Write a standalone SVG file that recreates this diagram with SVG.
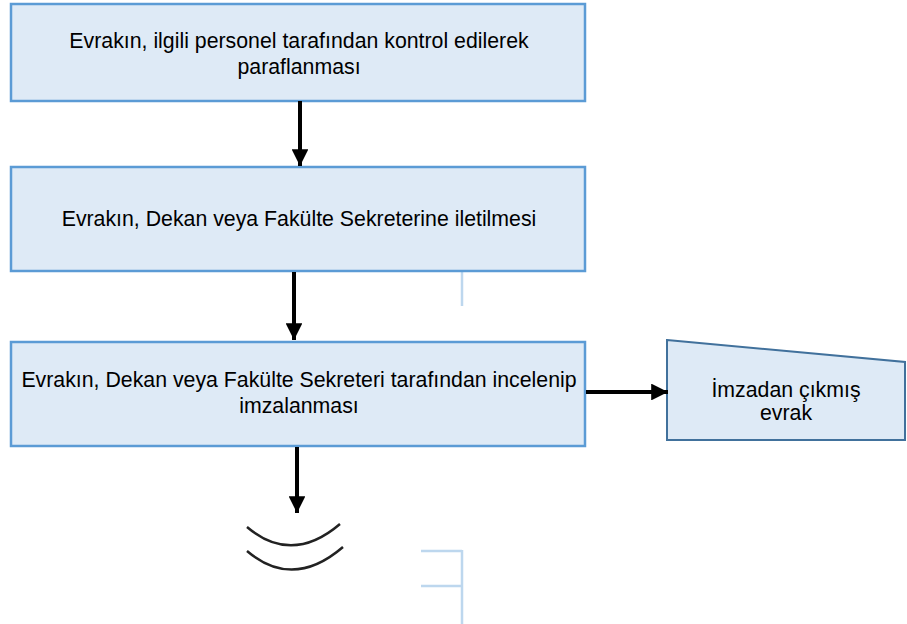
<svg xmlns="http://www.w3.org/2000/svg" width="907" height="624" viewBox="0 0 907 624">
<style>
.box{fill:#DEEAF6;stroke:#5B9BD5;stroke-width:2.5}
.sh{fill:#DEEAF6;stroke:#41719C;stroke-width:2}
.t{font-family:"Liberation Sans",Arial,sans-serif;font-size:21.3px;fill:#000;text-anchor:middle}
.c{stroke:#000;stroke-width:4;fill:none}
.lb{stroke:#BDD7EE;stroke-width:2.5;fill:none}
.arc{stroke:#222;stroke-width:2.5;fill:none}
</style>
<defs>
<marker id="ah" markerWidth="4.2" markerHeight="4.2" refX="4.2" refY="2.1" orient="auto" markerUnits="strokeWidth">
<path d="M0,0 L4.2,2.1 L0,4.2 Z" fill="#000"/>
</marker>
</defs>
<rect width="907" height="624" fill="#fff"/>
<g id="deco">
<path class="lb" d="M462,272 V306"/>
<path class="lb" d="M421,551 H462 M421,586 H462 M462,550 V624"/>
<path class="arc" d="M247,527 Q292,565 340,524"/>
<path class="arc" d="M247,551 Q293,590 343,547"/>
</g>
<g id="node1">
<rect class="box" x="11" y="4" width="574" height="97"/>
<text class="t" x="299" y="48">Evrakın, ilgili personel tarafından kontrol edilerek</text>
<text class="t" x="299" y="74">paraflanması</text>
</g>
<g id="node2">
<rect class="box" x="11" y="167" width="574" height="104"/>
<text class="t" x="299" y="226">Evrakın, Dekan veya Fakülte Sekreterine iletilmesi</text>
</g>
<g id="node3">
<rect class="box" x="11" y="342" width="574" height="104"/>
<text class="t" x="299" y="387">Evrakın, Dekan veya Fakülte Sekreteri tarafından incelenip</text>
<text class="t" x="299" y="413">imzalanması</text>
</g>
<g id="node4">
<path class="sh" d="M667,340 L905,362 L905,440 L667,440 Z"/>
<text class="t" x="786" y="397">İmzadan çıkmış</text>
<text class="t" x="786" y="420">evrak</text>
</g>
<g id="connectors">
<path class="c" d="M300,101 V166" marker-end="url(#ah)"/>
<path class="c" d="M294,272 V340" marker-end="url(#ah)"/>
<path class="c" d="M586,392 H668" marker-end="url(#ah)"/>
<path class="c" d="M297,447 V513" marker-end="url(#ah)"/>
</g>
</svg>
